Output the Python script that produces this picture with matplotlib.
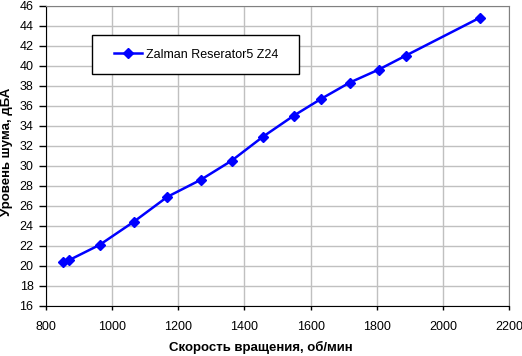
import matplotlib.pyplot as plt
from matplotlib.patches import Rectangle

plt.rcParams['font.family'] = ['Liberation Sans', 'DejaVu Sans']

# Data
rpm = [851, 871, 962, 1065, 1167, 1268, 1361, 1456, 1549, 1633, 1718, 1806, 1888, 2113]
noise = [20.4, 20.6, 22.1, 24.4, 26.9, 28.6, 30.5, 32.9, 35.0, 36.7, 38.3, 39.6, 41.0, 44.8]
series_name = "Zalman Reserator5 Z24"

fig = plt.figure(figsize=(5.22, 3.56), dpi=100)
W, H = 522, 356
ax = fig.add_axes([46 / W, 1 - 306 / H, (509 - 46) / W, (306 - 5.5) / H])

ax.plot(rpm, noise, color="#0000ff", lw=1.8, marker="D", ms=5.5,
        markeredgecolor="#0000ff", label=series_name, clip_on=False)

ax.set_xlim(800, 2200)
ax.set_ylim(16, 46)
ax.set_xticks(range(800, 2201, 200))
ax.set_yticks(range(16, 47, 2))
ax.grid(True, color="#c0c0c0", lw=1)
ax.set_axisbelow(True)

for s in ("top", "right"):
    ax.spines[s].set_color("#808080")
for s in ("left", "bottom"):
    ax.spines[s].set_color("black")
ax.tick_params(axis="x", direction="out", length=3, width=1, labelsize=9, pad=8)
ax.tick_params(axis="y", direction="out", length=5, width=1, labelsize=9, pad=4)

ax.set_xlabel("Скорость вращения, об/мин", fontsize=9.5, fontweight="bold")
ax.xaxis.set_label_coords((261 - 46) / 463, -(341 - 306) / 300.5)
ax.set_ylabel("Уровень шума, дБА", fontsize=9.5, fontweight="bold")
ax.yaxis.set_label_coords(-(33 / 463), (306 - 152) / 300.5)

# legend box drawn at fixed place, legend centred in it
ax.add_patch(Rectangle((92 / W, 1 - 74 / H), 207 / W, 39 / H, transform=fig.transFigure,
                       facecolor="white", edgecolor="black", lw=1, zorder=5, clip_on=False))
leg = ax.legend(loc="center", bbox_to_anchor=(196 / W, 1 - 54.5 / H),
                bbox_transform=fig.transFigure, fontsize=9, frameon=False,
                handlelength=2.3, handletextpad=0.3, borderpad=0, borderaxespad=0)
leg.set_zorder(6)

fig.savefig("out.png", dpi=100)
